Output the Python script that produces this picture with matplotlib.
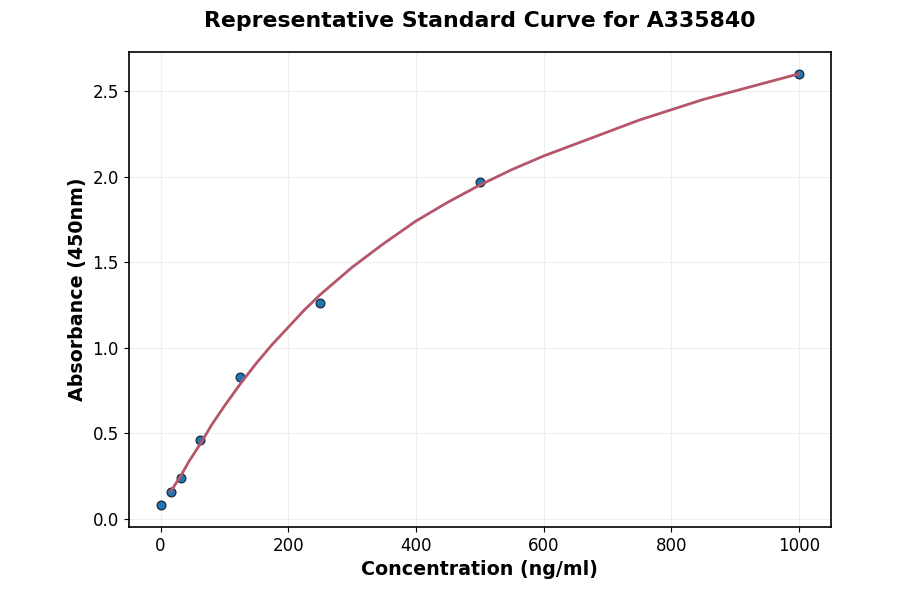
import matplotlib
matplotlib.use("Agg")
import matplotlib.pyplot as plt

# standard points
conc = [0, 15.625, 31.25, 62.5, 125, 250, 500, 1000]
absorb = [0.08, 0.16, 0.24, 0.46, 0.83, 1.26, 1.97, 2.60]

# fitted curve
curve_x = [15.625, 31.25, 45, 62.5, 80, 100, 125, 150, 175, 200, 225, 250, 275, 300,
           350, 400, 450, 500, 550, 600, 650, 700, 750, 800, 850, 900, 950, 1000]
curve_y = [0.16, 0.25, 0.34, 0.44, 0.55, 0.66, 0.79, 0.91, 1.02, 1.12, 1.22, 1.31,
           1.39, 1.47, 1.61, 1.74, 1.85, 1.95, 2.04, 2.12, 2.19, 2.26, 2.33, 2.39,
           2.45, 2.50, 2.55, 2.60]

fig, ax = plt.subplots(figsize=(9, 5.94), dpi=100)

ax.scatter(conc, absorb, s=40, color="#1f77b4", edgecolor="#1a2a3a", linewidth=0.9, zorder=2)
ax.plot(curve_x, curve_y, color="#b5566a", linewidth=2, zorder=3)

ax.set_title("Representative Standard Curve for A335840", fontsize=15.8, fontweight="bold", pad=18)
ax.set_xlabel("Concentration (ng/ml)", fontsize=13.7, fontweight="bold")
ax.set_ylabel("Absorbance (450nm)", fontsize=13.7, fontweight="bold")
ax.tick_params(labelsize=12)
ax.grid(True, color="#efefef", linewidth=0.8)
ax.set_axisbelow(True)
for s in ax.spines.values():
    s.set_linewidth(1.2)

fig.subplots_adjust(left=0.143, right=0.923, top=0.912, bottom=0.113)
plt.savefig("out.png")
